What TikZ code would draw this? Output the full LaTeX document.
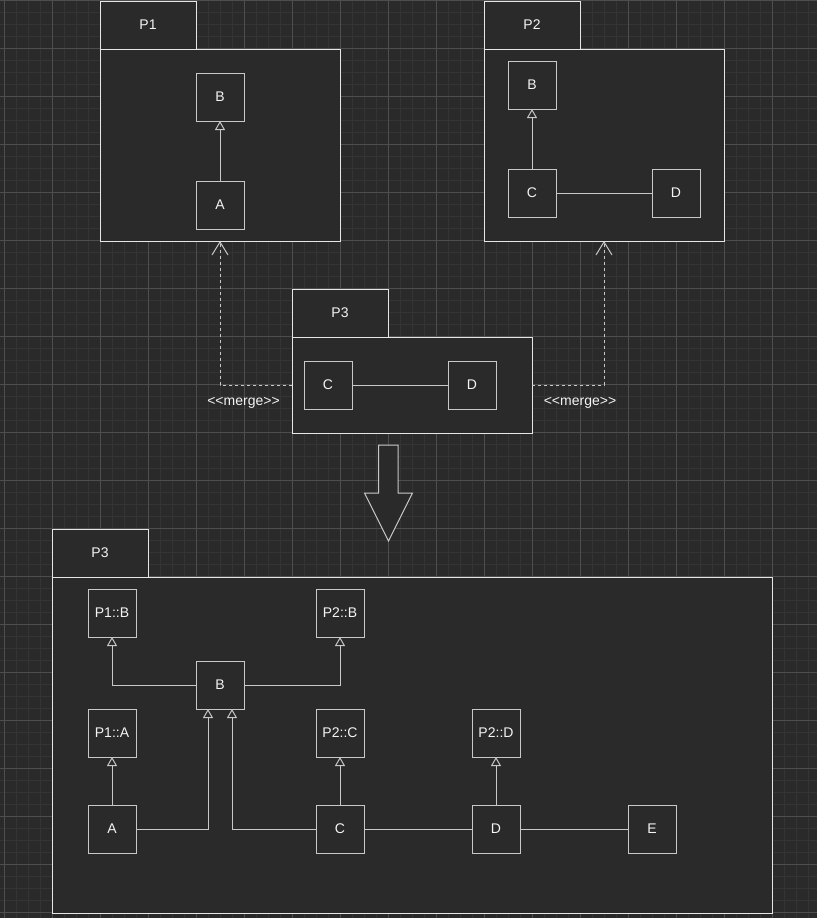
\documentclass[tikz,border=0pt]{standalone}
\usepackage{fontspec}
\setmainfont{Liberation Sans}
\usetikzlibrary{arrows.meta}
\definecolor{bgc}{HTML}{2A2A2A}
\definecolor{gminor}{HTML}{343434}
\definecolor{gmajor}{HTML}{4E4E4E}
\definecolor{boxc}{HTML}{C8C8C8}
\definecolor{pkgc}{HTML}{E6E6E6}
\definecolor{txtc}{HTML}{F4F4F4}
\tikzset{
  cls/.style={draw=boxc, fill=bgc, line width=1pt, minimum width=48pt, minimum height=48pt,
    inner sep=0pt, outer sep=0pt, text=txtc, font=\fontsize{14}{16}\selectfont},
  pkg/.style={draw=pkgc, fill=bgc, line width=1pt, inner sep=0pt, outer sep=0pt,
    anchor=north west, text=txtc, font=\fontsize{14}{16}\selectfont},
  tabbox/.style={pkg, minimum width=96pt, minimum height=48pt},
  gen/.style={draw=boxc, line width=1pt, -{Triangle[open, length=9pt, width=10pt]}},
  assoc/.style={draw=boxc, line width=1pt},
  merge/.style={draw=boxc, line width=1pt, dash pattern=on 3pt off 3pt,
    -{Straight Barb[length=13pt, width=16pt]}},
  lbl/.style={text=txtc, font=\fontsize{14}{16}\selectfont, inner sep=0pt},
}
\begin{document}
\begin{tikzpicture}[x=1pt, y=-1pt]
\useasboundingbox (0,0) rectangle (817,918);
\fill[bgc] (0,0) rectangle (817,918);
% grid
\foreach \k in {0,...,67} {\draw[gminor, line width=1pt] ({4+12*\k},0) -- ({4+12*\k},918);}
\foreach \k in {0,...,76} {\draw[gminor, line width=1pt] (0,{12*\k}) -- (817,{12*\k});}
\foreach \k in {0,...,16} {\draw[gmajor, line width=1pt] ({4+48*\k},0) -- ({4+48*\k},918);}
\foreach \k in {0,...,19} {\draw[gmajor, line width=1pt] (0,{48*\k}) -- (817,{48*\k});}

% ---------- P1 ----------
\node[tabbox] (p1tab) at (100,1) {P1};
\node[pkg, minimum width=240pt, minimum height=192pt] (p1body) at (100,49) {};
\node[cls] (p1B) at (220,97) {B};
\node[cls] (p1A) at (220,205) {A};
\draw[gen] (p1A.north) -- (p1B.south);

% ---------- P2 ----------
\node[tabbox] (p2tab) at (484,1) {P2};
\node[pkg, minimum width=240pt, minimum height=192pt] (p2body) at (484,49) {};
\node[cls] (p2B) at (532,85) {B};
\node[cls] (p2C) at (532,193) {C};
\node[cls] (p2D) at (676,193) {D};
\draw[gen] (p2C.north) -- (p2B.south);
\draw[assoc] (p2C.east) -- (p2D.west);

% ---------- P3 (source) ----------
\node[tabbox] (p3tab) at (292,289) {P3};
\node[pkg, minimum width=240pt, minimum height=96pt] (p3body) at (292,337) {};
\node[cls] (p3C) at (328,385) {C};
\node[cls] (p3D) at (472,385) {D};
\draw[assoc] (p3C.east) -- (p3D.west);

\draw[merge] (p3body.west) -| (p1body.south);
\draw[merge] (p3body.east) -| (p2body.south);
\node[lbl] (ml) at (243.5,403) {<\kern0pt<merge>\kern0pt>};
\node[lbl] (mr) at (580,403) {<\kern0pt<merge>\kern0pt>};

% ---------- block arrow ----------
\draw[draw=boxc, fill=bgc, line width=1pt, line join=miter]
  (378.5,445) -- (398,445) -- (398,493) -- (412.5,493) -- (388.5,541)
  -- (364.5,493) -- (378.5,493) -- cycle;

% ---------- P3 (result) ----------
\node[tabbox] (q3tab) at (52,529) {P3};
\node[pkg, minimum width=720pt, minimum height=336pt] (q3body) at (52,577) {};
\node[cls] (qP1B) at (112,613) {P1::B};
\node[cls] (qP2B) at (340,613) {P2::B};
\node[cls] (qB) at (220,685) {B};
\node[cls] (qP1A) at (112,733) {P1::A};
\node[cls] (qP2C) at (340,733) {P2::C};
\node[cls] (qP2D) at (496,733) {P2::D};
\node[cls] (qA) at (112,829) {A};
\node[cls] (qC) at (340,829) {C};
\node[cls] (qD) at (496,829) {D};
\node[cls] (qE) at (652,829) {E};

\draw[gen] (qB.west) -| (qP1B.south);
\draw[gen] (qB.east) -| (qP2B.south);
\draw[gen] (qA.north) -- (qP1A.south);
\draw[gen] (qC.north) -- (qP2C.south);
\draw[gen] (qD.north) -- (qP2D.south);
\draw[gen] (qA.east) -| ([xshift=-12pt]qB.south);
\draw[gen] (qC.west) -| ([xshift=12pt]qB.south);
\draw[assoc] (qC.east) -- (qD.west);
\draw[assoc] (qD.east) -- (qE.west);
\end{tikzpicture}
\end{document}
